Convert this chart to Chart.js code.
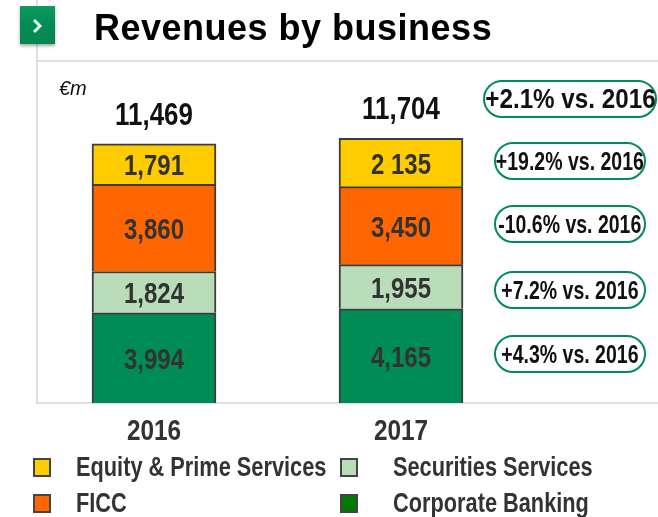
<!DOCTYPE html>
<html lang="en">
<head>
<meta charset="UTF-8">
<title>Revenues by business</title>
<script src="https://cdn.jsdelivr.net/npm/chart.js"></script>
<style>
    html, body { margin: 0; padding: 0; background: #fff; }
    #page { position: relative; width: 658px; height: 517px; overflow: hidden; font-family: "Liberation Sans", Arial, sans-serif; }
    #chart-box { position: absolute; left: 0; top: 0; width: 658px; height: 517px; }
    .abs { position: absolute; white-space: nowrap; }
    #icon { left: 20px; top: 6px; width: 35px; height: 38px; background: linear-gradient(#0d9a60, #008c55 50%, #0a8550); box-shadow: 0 2px 3px rgba(0,0,0,.35); }
    #icon svg { position: absolute; left: 11px; top: 12px; }
    #title { left: 94px; top: 7px; font-size: 36px; line-height: 42px; font-weight: bold; color: #000; letter-spacing: .5px; }
    #unit { left: 59px; top: 76px; font-size: 20px; line-height: 24px; font-style: italic; color: #111; }
    .pill { box-sizing: border-box; border: 2px solid #008c55; border-radius: 20px; display: flex; align-items: center; justify-content: center; font-weight: bold; color: #111; }
    .pill span { display: inline-block; flex: none; }
    .swatch { width: 14px; height: 15px; border: 2px solid #444; }
    .legend-text { font-weight: bold; font-size: 27px; line-height: 30px; color: #333; transform: scaleX(.806); transform-origin: left center; }
</style>
</head>
<body>
<div id="page">
    <div id="chart-box"><canvas id="revenueChart" width="658" height="517"></canvas></div>
    <div class="abs" id="icon"><svg width="14" height="16" viewBox="0 0 14 16"><path d="M3 2 L9 8 L3 14" fill="none" stroke="#e8f5ee" stroke-width="3"/></svg></div>
    <div class="abs" id="title">Revenues by business</div>
    <div class="abs" id="unit">€m</div>
</div>
<script>
    var years = ["2016", "2017"];
    var corporateBanking = [3994, 4165];
    var securitiesServices = [1824, 1955];
    var ficc = [3860, 3450];
    var equityPrime = [1791, 2135];
    var totals = [11469, 11704];

    var corporateLabels = ["3,994", "4,165"];
    var securitiesLabels = ["1,824", "1,955"];
    var ficcLabels = ["3,860", "3,450"];
    var equityLabels = ["1,791", "2 135"];
    var totalLabels = ["11,469", "11,704"];

    var seriesNames = ["Equity & Prime Services", "FICC", "Securities Services", "Corporate Banking"];
    var changeLabels = ["+2.1% vs. 2016", "+19.2% vs. 2016", "-10.6% vs. 2016", "+7.2% vs. 2016", "+4.3% vs. 2016"];

    var baseFont = '"Liberation Sans", Arial, sans-serif';

    // the original text is squeezed horizontally, no narrow font is available
    function narrowText(ctx, text, x, y, sx) {
        ctx.save();
        ctx.translate(x, y);
        ctx.scale(sx, 1);
        ctx.fillText(text, 0, 0);
        ctx.restore();
    }

    var framePlugin = {
        id: "frame",
        beforeDatasetsDraw: function (chart) {
            var ctx = chart.ctx;
            ctx.save();
            ctx.strokeStyle = "#dfdfdf";
            ctx.lineWidth = 2;
            ctx.beginPath();
            ctx.moveTo(37, 0);
            ctx.lineTo(37, 403);
            ctx.lineTo(658, 403);
            ctx.moveTo(37, 61);
            ctx.lineTo(658, 61);
            ctx.stroke();
            ctx.restore();
        },
        afterDatasetsDraw: function (chart) {
            var ctx = chart.ctx;
            ctx.save();
            ctx.textAlign = "center";
            ctx.textBaseline = "middle";
            ctx.font = "bold 30px " + baseFont;
            ctx.fillStyle = "#333";
            chart.data.datasets.forEach(function (ds, i) {
                chart.getDatasetMeta(i).data.forEach(function (bar, j) {
                    narrowText(ctx, ds.valueLabels[j], bar.x, (bar.y + bar.base) / 2 + 3, 0.8);
                });
            });
            var top = chart.getDatasetMeta(chart.data.datasets.length - 1).data;
            ctx.font = "bold 32px " + baseFont;
            ctx.fillStyle = "#111";
            top.forEach(function (bar, j) {
                narrowText(ctx, totalLabels[j], bar.x, chart.scales.y.getPixelForValue(totals[j]) - 28, 0.81);
            });
            ctx.font = "bold 29px " + baseFont;
            ctx.fillStyle = "#333";
            chart.data.labels.forEach(function (label, j) {
                narrowText(ctx, label, chart.scales.x.getPixelForTick(j), 432, 0.84);
            });
            ctx.restore();
        }
    };

    var ctx = document.getElementById("revenueChart").getContext("2d");
    var myChart = new Chart(ctx, {
        type: "bar",
        data: {
            labels: years,
            datasets: [
                { label: seriesNames[3], data: corporateBanking, valueLabels: corporateLabels, backgroundColor: "#008c55" },
                { label: seriesNames[2], data: securitiesServices, valueLabels: securitiesLabels, backgroundColor: "#b9ddb9" },
                { label: seriesNames[1], data: ficc, valueLabels: ficcLabels, backgroundColor: "#ff6600" },
                { label: seriesNames[0], data: equityPrime, valueLabels: equityLabels, backgroundColor: "#ffcc00" }
            ]
        },
        options: {
            responsive: false,
            animation: false,
            layout: { padding: { left: 30.5, right: 133.5, top: 73, bottom: 0 } },
            datasets: { bar: { barThickness: 124, borderColor: "#3c3c3c", borderWidth: 2 } },
            plugins: { legend: { display: false }, tooltip: { enabled: false } },
            scales: {
                x: {
                    stacked: true,
                    grid: { display: false },
                    border: { display: false },
                    afterFit: function (scale) { scale.height = 114; },
                    ticks: { display: false }
                },
                y: { stacked: true, display: false, min: 0, max: 14600 }
            }
        },
        plugins: [framePlugin]
    });

    // change pills and legend are plain html around the canvas
    var page = document.getElementById("page");
    var pillBoxes = [[483, 80, 174, 38, 28, 0.865], [494, 142, 152, 38, 25, 0.78], [494, 205, 152, 38, 25, 0.78], [494, 271, 152, 38, 25, 0.78], [494, 335, 152, 38, 25, 0.78]];
    changeLabels.forEach(function (text, i) {
        var b = pillBoxes[i];
        var el = document.createElement("div");
        el.className = "abs pill";
        el.style.cssText = "left:" + b[0] + "px;top:" + b[1] + "px;width:" + b[2] + "px;height:" + b[3] + "px;font-size:" + b[4] + "px";
        var sp = document.createElement("span");
        sp.style.transform = "scaleX(" + b[5] + ")";
        sp.textContent = text;
        el.appendChild(sp);
        page.appendChild(el);
    });

    var swatchColors = ["#ffcc00", "#ff6600", "#b9ddb9", "#007a00"];
    var legendSpots = [[33, 76, 458], [33, 76, 494], [340, 393, 458], [340, 393, 494]];
    seriesNames.forEach(function (name, i) {
        var s = legendSpots[i];
        var sw = document.createElement("div");
        sw.className = "abs swatch";
        sw.style.cssText = "left:" + s[0] + "px;top:" + s[2] + "px;background:" + swatchColors[i];
        page.appendChild(sw);
        var tx = document.createElement("div");
        tx.className = "abs legend-text";
        tx.style.cssText = "left:" + s[1] + "px;top:" + (s[2] - 6) + "px";
        tx.textContent = name;
        page.appendChild(tx);
    });
</script>
</body>
</html>
